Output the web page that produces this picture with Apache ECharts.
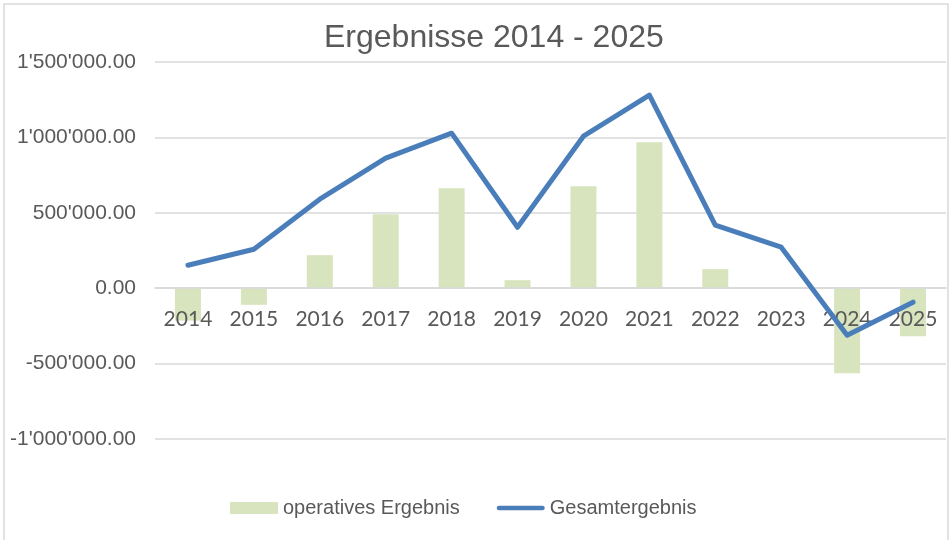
<!DOCTYPE html>
<html>
<head>
<meta charset="utf-8">
<script src="https://cdn.jsdelivr.net/npm/echarts@6/dist/echarts.min.js"></script>
<style>
html,body{margin:0;padding:0;background:#fff;}
#chart{width:951px;height:540px;}
</style>
</head>
<body>
<div id="chart"></div>
<script>
var categories = ['2014','2015','2016','2017','2018','2019','2020','2021','2022','2023','2024','2025'];
var operativesErgebnis = [-215000, -110000, 219000, 491000, 663000, 53000, 676000, 968000, 126000, 0, -564000, -318000];
var gesamtergebnis = [152000, 258000, 590000, 862000, 1028000, 404000, 1008000, 1280000, 418000, 272000, -312000, -93000];
var yTicks = [-1000000, -500000, 0, 500000, 1000000, 1500000];

function fmt(v){
  var neg = v < 0;
  var s = Math.abs(v).toFixed(2);
  var parts = s.split('.');
  var intPart = parts[0].replace(/\B(?=(\d{3})+(?!\d))/g, "'");
  return (neg ? '-' : '') + intPart + '.' + parts[1];
}

var chart = echarts.init(document.getElementById('chart'), null, {renderer:'canvas'});
chart.setOption({
  animation: false,
  backgroundColor: '#ffffff',
  graphic: [{
    type: 'rect',
    shape: {x: 4, y: 4, width: 944, height: 600},
    style: {fill: 'none', stroke: '#d9d9d9', lineWidth: 1.5},
    silent: true, z: -1
  }],
  title: {
    text: 'Ergebnisse 2014 - 2025',
    left: 319, top: 17,
    textStyle: {fontFamily: 'Liberation Sans, Arial, sans-serif', fontSize: 32, fontWeight: 'normal', color: '#595959'}
  },
  legend: {
    bottom: 17,
    left: 225,
    itemGap: 37,
    itemWidth: 48,
    itemHeight: 12,
    textStyle: {fontFamily: 'Liberation Sans, Arial, sans-serif', fontSize: 20, color: '#595959'},
    data: [
      {name: 'operatives Ergebnis', icon: 'rect', itemStyle: {color: '#d7e4bd'}},
      {name: 'Gesamtergebnis', icon: 'path://M2.5,0 L51.5,0 A2.5,2.5 0 0 1 51.5,5 L2.5,5 A2.5,2.5 0 0 1 2.5,0 Z', itemStyle: {color: '#4a7ebb'}}
    ]
  },
  grid: {left: 155, right: 5, top: 62, bottom: 101, containLabel: false},
  xAxis: {
    type: 'category',
    data: categories,
    offset: -151,
    z: 2,
    axisLine: {onZero: false, lineStyle: {color: '#d9d9d9', width: 1.5}},
    axisTick: {show: false},
    axisLabel: {fontFamily: 'Lato, Carlito, sans-serif', fontSize: 21, color: '#595959', margin: 21}
  },
  yAxis: {
    type: 'value',
    min: yTicks[0], max: yTicks[yTicks.length-1], interval: 500000,
    axisLine: {show: false},
    axisTick: {show: false},
    splitLine: {lineStyle: {color: '#d9d9d9', width: 1.5}},
    axisLabel: {
      fontFamily: 'Liberation Sans, Arial, sans-serif', fontSize: 21, color: '#595959', margin: 19,
      formatter: function(v){ return fmt(v); }
    }
  },
  series: [
    {
      name: 'operatives Ergebnis',
      type: 'bar',
      data: operativesErgebnis,
      barWidth: 26,
      itemStyle: {color: '#d7e4bd'},
      z: 1
    },
    {
      name: 'Gesamtergebnis',
      type: 'line',
      data: gesamtergebnis,
      symbol: 'none',
      lineStyle: {color: '#4a7ebb', width: 5, cap: 'round', join: 'round'},
      itemStyle: {color: '#4a7ebb'},
      z: 3
    }
  ]
});
</script>
</body>
</html>
